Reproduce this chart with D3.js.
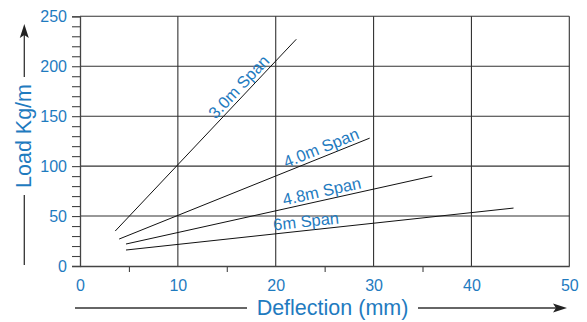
<!DOCTYPE html>
<html><head><meta charset="utf-8">
<script src="https://cdn.jsdelivr.net/npm/d3@7"></script>
<style>
body{margin:0;background:#fff;}
svg{display:block;font-family:"Liberation Sans",Arial,Helvetica,sans-serif;}
</style></head>
<body><svg id="c" width="587" height="322"></svg>
<script>
// ---- data ----
const seriesNames = ["3.0m Span", "4.0m Span", "4.8m Span", "6m Span"];
const seriesX = [[3.6, 22.1], [4.0, 29.6], [4.7, 36.0], [4.7, 44.3]];
const seriesY = [[35, 227], [27, 128], [22, 90], [16, 58]];
const labelAtX = [16.9, 25.0, 24.9, 23.2];
const xMajorTicks = [0, 10, 20, 30, 40, 50];
const xMinorTicks = [5, 15, 25, 35];
const yMajorTicks = [0, 50, 100, 150, 200, 250];
const yMinorTicks = [0, 10, 20, 30, 40, 50, 60, 70, 80, 90, 100, 110, 120, 130, 140, 150, 160, 170, 180, 190, 200, 210, 220, 230, 240, 250];
const xTitle = "Deflection (mm)";
const yTitle = "Load Kg/m";

const blue = "#1f7bbf";
const svg = d3.select("#c");
const x = d3.scaleLinear().domain([0, 50]).range([80, 569.3]);
const y = d3.scaleLinear().domain([0, 250]).range([266, 16.3]);

// grid
const grid = svg.append("g").attr("stroke", "#333").attr("stroke-width", 1.1);
grid.selectAll(".vg").data(xMajorTicks.filter(d => d > 0)).join("line")
  .attr("x1", d => x(d)).attr("x2", d => x(d)).attr("y1", y(250)).attr("y2", y(0));
grid.selectAll(".hg").data(yMajorTicks.filter(d => d > 0)).join("line")
  .attr("x1", x(0)).attr("x2", x(50)).attr("y1", d => y(d)).attr("y2", d => y(d));

// y axis
const yAx = svg.append("g").attr("transform", `translate(${x(0)},0)`)
  .call(d3.axisLeft(y).tickValues(yMinorTicks).tickSize(8).tickPadding(5)
    .tickFormat(d => yMajorTicks.includes(d) ? d : ""));
yAx.select(".domain").attr("stroke", "#444").attr("stroke-width", 1.3);
yAx.selectAll(".tick line").attr("stroke", "#444").attr("stroke-width", 1.1);
yAx.selectAll("text").attr("fill", blue).attr("font-size", 16).attr("font-family", "Liberation Sans, Arial, sans-serif");

// x axis
const xAx = svg.append("g").attr("transform", `translate(0,${y(0)})`)
  .call(d3.axisBottom(x).tickValues(xMajorTicks).tickSize(0).tickPadding(13.5).tickFormat(d3.format("d")));
xAx.select(".domain").attr("stroke", "#444").attr("stroke-width", 1.3);
xAx.selectAll("text").attr("fill", blue).attr("font-size", 16).attr("font-family", "Liberation Sans, Arial, sans-serif");
const xMin = svg.append("g").attr("transform", `translate(0,${y(0)})`)
  .call(d3.axisBottom(x).tickValues(xMinorTicks).tickSize(6).tickFormat(""));
xMin.select(".domain").remove();
xMin.selectAll(".tick line").attr("stroke", "#444").attr("stroke-width", 1.1);

// series lines
const lineG = svg.append("g");
seriesNames.forEach((name, i) => {
  const pts = seriesX[i].map((v, k) => [v, seriesY[i][k]]);
  lineG.append("path")
    .attr("d", d3.line().x(d => x(d[0])).y(d => y(d[1]))(pts))
    .attr("fill", "none").attr("stroke", "#111").attr("stroke-width", 1);
  const [x0, x1] = seriesX[i], [y0, y1] = seriesY[i];
  const sx0 = x(x0), sy0 = y(y0), sx1 = x(x1), sy1 = y(y1);
  const ang = Math.atan2(sy1 - sy0, sx1 - sx0) * 180 / Math.PI;
  const lx = labelAtX[i];
  const ly = y0 + (y1 - y0) * (lx - x0) / (x1 - x0);
  lineG.append("text")
    .attr("transform", `translate(${x(lx)},${y(ly)}) rotate(${ang})`)
    .attr("y", -3.5).attr("text-anchor", "middle")
    .attr("fill", blue).attr("font-size", 16.5).text(name);
});

// axis titles with arrows
const ar = svg.append("g").attr("stroke", "#333").attr("stroke-width", 1.3).attr("fill", "#222");
// x title arrow
ar.append("line").attr("x1", 75).attr("x2", 247).attr("y1", 308).attr("y2", 308);
ar.append("line").attr("x1", 418).attr("x2", 556).attr("y1", 308).attr("y2", 308);
ar.append("path").attr("d", "M567,308 L553,303.5 L556,308 L553,312.5 Z").attr("stroke", "none");
svg.append("text").attr("x", 332.5).attr("y", 314.5).attr("text-anchor", "middle")
  .attr("fill", blue).attr("font-size", 21.5).text(xTitle);
// y title arrow
ar.append("line").attr("x1", 24.3).attr("x2", 24.3).attr("y1", 265).attr("y2", 195);
ar.append("line").attr("x1", 24.3).attr("x2", 24.3).attr("y1", 77).attr("y2", 35);
ar.append("path").attr("d", "M24.3,24 L19.8,38 L24.3,35 L28.8,38 Z").attr("stroke", "none");
svg.append("text").attr("transform", "translate(30.5,136) rotate(-90)").attr("text-anchor", "middle")
  .attr("fill", blue).attr("font-size", 21.5).text(yTitle);
</script></body></html>
